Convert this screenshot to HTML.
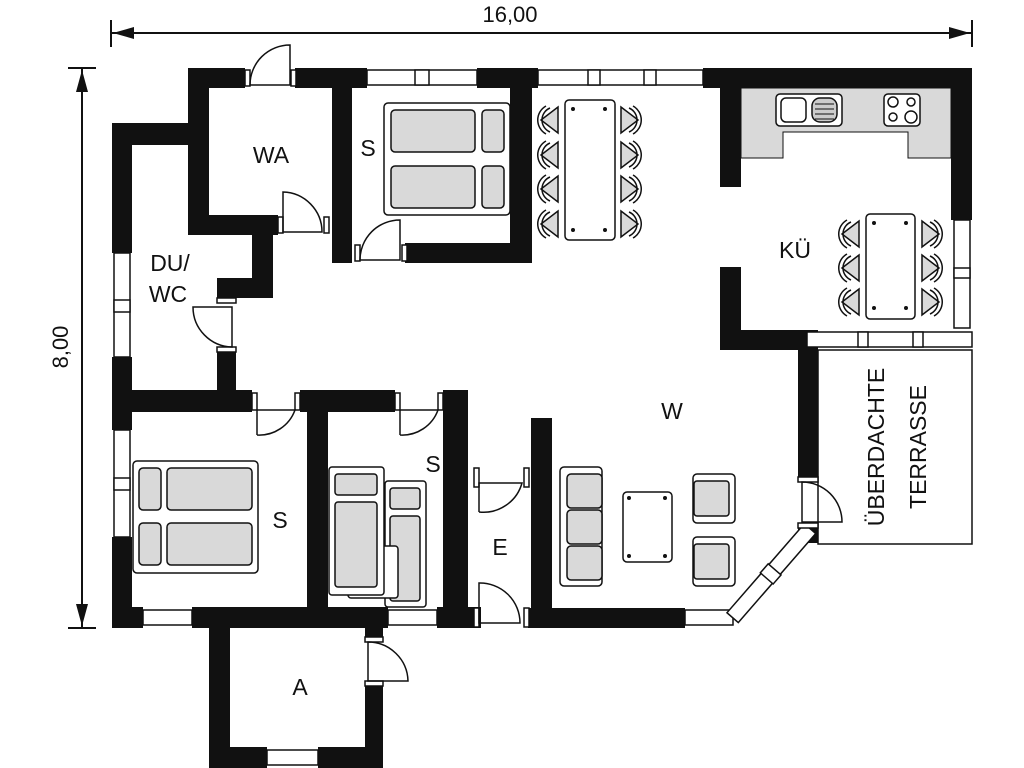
<!DOCTYPE html>
<html><head><meta charset="utf-8"><style>
html,body{margin:0;padding:0;background:#fff}
svg{display:block}
text{font-family:"Liberation Sans","DejaVu Sans",sans-serif;fill:#111}
</style></head><body>
<svg width="1024" height="768" viewBox="0 0 1024 768" xmlns="http://www.w3.org/2000/svg">
<g stroke="#111" stroke-width="2" fill="#111">
<line x1="111" y1="33" x2="972" y2="33"/>
<line x1="111" y1="20" x2="111" y2="47"/>
<line x1="972" y1="20" x2="972" y2="47"/>
<polygon points="113,33 134,27 134,39" stroke="none"/>
<polygon points="970,33 949,27 949,39" stroke="none"/>
<line x1="82" y1="68" x2="82" y2="628"/>
<line x1="68" y1="68" x2="96" y2="68"/>
<line x1="68" y1="628" x2="96" y2="628"/>
<polygon points="82,70 76,92 88,92" stroke="none"/>
<polygon points="82,626 76,604 88,604" stroke="none"/>
</g>
<text x="510" y="22" font-size="22" text-anchor="middle">16,00</text>
<text transform="translate(68,347) rotate(-90)" font-size="22" text-anchor="middle">8,00</text>

<rect x="818" y="350" width="154" height="194" fill="none" stroke="#111" stroke-width="1.5"/>

<g fill="#111">
<rect x="188" y="68" width="57" height="20"/>
<rect x="295" y="68" width="72" height="20"/>
<rect x="477" y="68" width="61" height="20"/>
<rect x="703" y="68" width="269" height="20"/>
<rect x="188" y="68" width="21" height="167"/>
<rect x="112" y="123" width="97" height="22"/>
<rect x="112" y="123" width="20" height="130"/>
<rect x="188" y="215" width="90" height="20"/>
<rect x="252" y="215" width="21" height="83"/>
<rect x="217" y="278" width="56" height="20"/>
<rect x="217" y="350" width="19" height="50"/>
<rect x="332" y="68" width="20" height="195"/>
<rect x="405" y="243" width="127" height="20"/>
<rect x="510" y="68" width="22" height="195"/>
<rect x="720" y="88" width="21" height="99"/>
<rect x="720" y="267" width="21" height="83"/>
<rect x="720" y="330" width="87" height="20"/>
<rect x="951" y="68" width="21" height="152"/>
<rect x="798" y="330" width="20" height="150"/>
<rect x="798" y="525" width="20" height="18"/>
<rect x="112" y="357" width="20" height="33"/>
<rect x="112" y="390" width="140" height="22"/>
<rect x="300" y="390" width="95" height="22"/>
<rect x="443" y="390" width="25" height="237"/>
<rect x="112" y="390" width="20" height="40"/>
<rect x="112" y="537" width="20" height="90"/>
<rect x="307" y="390" width="21" height="217"/>
<rect x="112" y="607" width="31" height="21"/>
<rect x="192" y="607" width="196" height="21"/>
<rect x="437" y="607" width="44" height="21"/>
<rect x="531" y="418" width="21" height="209"/>
<rect x="528" y="608" width="157" height="20"/>
<rect x="209" y="627" width="21" height="141"/>
<rect x="365" y="627" width="18" height="13"/>
<rect x="365" y="683" width="18" height="85"/>
<rect x="209" y="747" width="58" height="21"/>
<rect x="318" y="747" width="65" height="21"/>
</g>

<g fill="#fff" stroke="#111" stroke-width="1.5">
<rect x="367" y="70" width="110" height="15"/>
<rect x="415" y="70" width="14" height="15"/>
<rect x="538" y="70" width="165" height="15"/>
<rect x="588" y="70" width="12" height="15"/>
<rect x="644" y="70" width="12" height="15"/>
<rect x="954" y="220" width="16" height="108"/>
<rect x="954" y="268" width="16" height="10"/>
<rect x="807" y="332" width="165" height="15"/>
<rect x="858" y="332" width="10" height="15"/>
<rect x="913" y="332" width="10" height="15"/>
<rect x="114" y="253" width="16" height="104"/>
<rect x="114" y="300" width="16" height="12"/>
<rect x="114" y="430" width="16" height="107"/>
<rect x="114" y="478" width="16" height="12"/>
<rect x="143" y="610" width="49" height="15"/>
<rect x="388" y="610" width="49" height="15"/>
<rect x="685" y="610" width="48" height="15"/>
<rect x="267" y="750" width="51" height="15"/>
<g transform="translate(733,618) rotate(-49)">
<rect x="0" y="-8" width="118" height="15"/>
<rect x="52" y="-9" width="12" height="17"/>
</g>
</g>

<g fill="none" stroke="#111" stroke-width="1.5">
<rect x="245" y="70" width="5" height="16" fill="#fff"/><rect x="291" y="70" width="5" height="16" fill="#fff"/>
<path d="M250,85 A40,40 0 0 1 290,45 L290,85 Z"/>
<rect x="278" y="217" width="5" height="16" fill="#fff"/><rect x="324" y="217" width="5" height="16" fill="#fff"/>
<path d="M283,232 L283,192 A40,40 0 0 1 322,232 Z"/>
<rect x="355" y="245" width="5" height="16" fill="#fff"/><rect x="402" y="245" width="5" height="16" fill="#fff"/>
<path d="M360,260 A40,40 0 0 1 400,220 L400,260 Z"/>
<rect x="217" y="298" width="19" height="5" fill="#fff"/><rect x="217" y="347" width="19" height="5" fill="#fff"/>
<path d="M232,347 A40,40 0 0 1 193,307 L232,307 Z"/>
<rect x="252" y="393" width="5" height="17" fill="#fff"/><rect x="295" y="393" width="5" height="17" fill="#fff"/>
<path d="M257,435 L257,410 L295,410 A38,38 0 0 1 257,435"/>
<rect x="395" y="393" width="5" height="17" fill="#fff"/><rect x="438" y="393" width="5" height="17" fill="#fff"/>
<path d="M400,435 L400,410 L438,410 A38,38 0 0 1 400,435"/>
<rect x="474" y="468" width="5" height="19" fill="#fff"/><rect x="524" y="468" width="5" height="19" fill="#fff"/>
<path d="M479,512 L479,483 L522,483 A40,40 0 0 1 479,512"/>
<rect x="474" y="608" width="5" height="19" fill="#fff"/><rect x="524" y="608" width="5" height="19" fill="#fff"/>
<path d="M479,623 L479,583 A40,40 0 0 1 520,623 Z"/>
<rect x="365" y="637" width="18" height="5" fill="#fff"/><rect x="365" y="681" width="18" height="5" fill="#fff"/>
<path d="M368,642 A40,40 0 0 1 408,681 L368,681 Z"/>
<rect x="798" y="477" width="20" height="5" fill="#fff"/><rect x="798" y="523" width="20" height="5" fill="#fff"/>
<path d="M802,482 A40,40 0 0 1 842,522 L802,522 Z"/>
</g>

<path d="M741,88 H951 V158 H908 V132 H783 V158 H741 Z" fill="#d9d9d9" stroke="#111" stroke-width="1"/>
<g fill="#fff" stroke="#111" stroke-width="1.5">
<rect x="776" y="94" width="66" height="32" rx="4"/>
<rect x="781" y="98" width="25" height="24" rx="5"/>
<rect x="812" y="98" width="25" height="24" rx="8" fill="#ccc"/>
<rect x="884" y="94" width="36" height="32" rx="4"/>
<circle cx="893" cy="102" r="5"/><circle cx="911" cy="102" r="4"/>
<circle cx="893" cy="117" r="4"/><circle cx="911" cy="117" r="6"/>
</g>
<g stroke="#111" stroke-width="1"><line x1="815" y1="104" x2="834" y2="104"/><line x1="815" y1="109" x2="834" y2="109"/><line x1="815" y1="114" x2="834" y2="114"/><line x1="815" y1="119" x2="834" y2="119"/></g>

<defs>
<g id="chL"><path d="M0,-13 L0,13 L-17,0 Z" fill="#d9d9d9" stroke="#111" stroke-width="1.5"/><path d="M-12,-14 A16,16 0 0 0 -12,14 M-8,-12 A13,13 0 0 0 -8,12" fill="none" stroke="#111" stroke-width="1.5"/></g>
<g id="chR"><use href="#chL" transform="scale(-1,1)"/></g>
</defs>
<rect x="565" y="100" width="50" height="140" rx="4" fill="#fff" stroke="#111" stroke-width="1.5"/>
<g fill="#111"><circle cx="573" cy="109" r="2"/><circle cx="605" cy="109" r="2"/><circle cx="573" cy="230" r="2"/><circle cx="605" cy="230" r="2"/></g>
<use href="#chL" x="558" y="120"/><use href="#chL" x="558" y="155"/><use href="#chL" x="558" y="189"/><use href="#chL" x="558" y="224"/>
<use href="#chR" x="621" y="120"/><use href="#chR" x="621" y="155"/><use href="#chR" x="621" y="189"/><use href="#chR" x="621" y="224"/>
<rect x="866" y="214" width="49" height="105" rx="4" fill="#fff" stroke="#111" stroke-width="1.5"/>
<g fill="#111"><circle cx="874" cy="223" r="2"/><circle cx="906" cy="223" r="2"/><circle cx="874" cy="308" r="2"/><circle cx="906" cy="308" r="2"/></g>
<use href="#chL" x="859" y="234"/><use href="#chL" x="859" y="268"/><use href="#chL" x="859" y="302"/>
<use href="#chR" x="922" y="234"/><use href="#chR" x="922" y="268"/><use href="#chR" x="922" y="302"/>

<g stroke="#111" stroke-width="1.5">
<rect x="384" y="103" width="126" height="112" rx="4" fill="#fff"/>
<rect x="391" y="110" width="84" height="42" rx="4" fill="#d9d9d9"/>
<rect x="482" y="110" width="22" height="42" rx="4" fill="#d9d9d9"/>
<rect x="391" y="166" width="84" height="42" rx="4" fill="#d9d9d9"/>
<rect x="482" y="166" width="22" height="42" rx="4" fill="#d9d9d9"/>
<rect x="133" y="461" width="125" height="112" rx="4" fill="#fff"/>
<rect x="139" y="468" width="22" height="42" rx="4" fill="#d9d9d9"/>
<rect x="167" y="468" width="85" height="42" rx="4" fill="#d9d9d9"/>
<rect x="139" y="523" width="22" height="42" rx="4" fill="#d9d9d9"/>
<rect x="167" y="523" width="85" height="42" rx="4" fill="#d9d9d9"/>
<rect x="385" y="481" width="41" height="126" rx="3" fill="#fff"/>
<rect x="390" y="488" width="30" height="21" rx="3" fill="#d9d9d9"/>
<rect x="390" y="516" width="30" height="85" rx="3" fill="#d9d9d9"/>
<rect x="348" y="546" width="50" height="52" rx="3" fill="#fff"/>
<rect x="329" y="467" width="55" height="128" rx="3" fill="#fff"/>
<rect x="335" y="474" width="42" height="21" rx="3" fill="#d9d9d9"/>
<rect x="335" y="502" width="42" height="85" rx="3" fill="#d9d9d9"/>
</g>

<g stroke="#111" stroke-width="1.5">
<rect x="560" y="467" width="42" height="119" rx="4" fill="#fff"/>
<rect x="567" y="474" width="35" height="34" rx="4" fill="#d9d9d9"/>
<rect x="567" y="510" width="35" height="34" rx="4" fill="#d9d9d9"/>
<rect x="567" y="546" width="35" height="34" rx="4" fill="#d9d9d9"/>
<rect x="623" y="492" width="49" height="70" rx="4" fill="#fff"/>
<rect x="693" y="474" width="42" height="49" rx="4" fill="#fff"/>
<rect x="694" y="481" width="35" height="35" rx="3" fill="#d9d9d9"/>
<rect x="693" y="537" width="42" height="49" rx="4" fill="#fff"/>
<rect x="694" y="544" width="35" height="35" rx="3" fill="#d9d9d9"/>
</g>
<g fill="#111"><circle cx="629" cy="498" r="2"/><circle cx="665" cy="498" r="2"/><circle cx="629" cy="556" r="2"/><circle cx="665" cy="556" r="2"/></g>

<g font-size="23">
<text x="271" y="163" text-anchor="middle">WA</text>
<text x="368" y="156" text-anchor="middle">S</text>
<text x="170" y="271" text-anchor="middle">DU/</text>
<text x="168" y="302" text-anchor="middle">WC</text>
<text x="795" y="258" text-anchor="middle">KÜ</text>
<text x="672" y="419" text-anchor="middle">W</text>
<text x="280" y="528" text-anchor="middle">S</text>
<text x="433" y="472" text-anchor="middle">S</text>
<text x="500" y="555" text-anchor="middle">E</text>
<text x="300" y="695" text-anchor="middle">A</text>
<text transform="translate(884,447) rotate(-90)" text-anchor="middle">ÜBERDACHTE</text>
<text transform="translate(926,447) rotate(-90)" text-anchor="middle">TERRASSE</text>
</g>
</svg>
</body></html>
